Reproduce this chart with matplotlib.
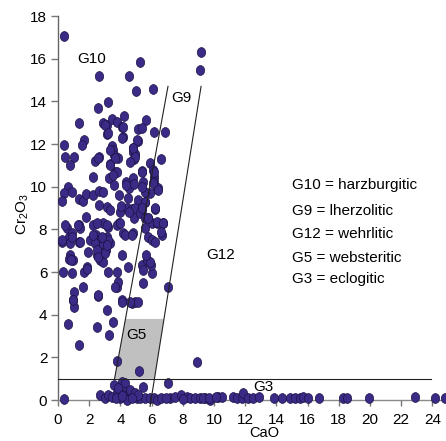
import matplotlib
matplotlib.use('Agg')
import matplotlib.pyplot as plt
import numpy as np
from matplotlib.path import Path

plt.rcParams['font.family'] = ['Liberation Sans', 'DejaVu Sans']

# garnets with higher Cr2O3 (peridotitic field)
cao_hi = [0.41, 2.65, 5.24, 4.53, 5.02, 6.07, 9.15, 9.10, 3.23, 2.54, 1.37, 4.25, 2.90, 3.12,
          3.44, 3.76, 4.12, 5.62, 5.10, 5.40, 6.15, 6.84, 3.14, 4.15, 5.15, 1.69, 1.52, 0.41,
          3.44, 3.50, 3.57, 4.79, 4.83, 0.47, 1.03, 0.77, 2.37, 2.63, 3.82, 4.91, 4.87, 5.90,
          6.60, 3.33, 6.11, 6.15, 2.26, 5.40, 3.65, 3.27, 4.38, 4.57, 4.81, 4.87, 5.47, 6.17,
          6.32, 0.66, 0.41, 0.28, 0.88, 1.35, 1.58, 1.77, 2.26, 2.65, 2.90, 2.65, 3.12, 3.33,
          3.61, 3.93, 4.36, 5.13, 5.58, 6.43, 6.22, 3.97, 4.40, 4.72, 4.94, 5.36, 1.79,
          0.57, 0.28, 0.73, 0.92, 0.77, 0.73, 0.94, 1.35, 1.41, 1.37, 1.94, 0.34, 0.92, 1.69,
          1.88, 1.62, 1.03, 0.94, 1.05, 0.66, 1.37, 2.54, 2.48, 3.12, 3.50, 3.29, 3.76, 3.87,
          4.12, 4.72, 4.94, 5.15, 5.47, 5.36, 5.47, 6.00, 5.96, 4.47, 4.08, 3.18, 3.80,
          2.44, 2.59, 2.71, 2.47, 2.69, 2.86, 3.08, 3.16, 3.23, 2.90, 3.33, 2.05, 2.26, 2.69,
          2.90, 2.80, 3.93, 4.19, 4.79, 4.90, 4.57, 5.26, 5.58, 5.79, 6.00, 5.79, 6.00, 6.22,
          6.37, 6.71, 6.69, 5.71, 5.88, 5.66, 0.45, 1.26, 2.48, 3.12, 3.76, 3.97,
          3.33, 3.65, 3.33, 3.76, 3.55, 3.01, 4.19, 4.08, 5.04, 4.83, 4.94, 4.62, 3.23, 2.58,
          6.15, 5.36, 6.11, 6.43, 5.90, 5.58, 5.36, 5.58, 5.36, 6.22, 5.79, 6.32, 6.71, 5.58,
          6.60, 0.28, 0.77, 0.88, 1.41, 2.37, 2.48, 2.58, 3.01, 3.23, 3.12, 2.80, 2.26, 4.29,
          4.72, 0.83, 1.84, 3.65, 2.58, 0.98, 4.08, 4.62, 7.07, 3.76, 5.21, 8.89, 4.51, 4.04]
cr_hi = [17.08, 15.19, 15.83, 15.19, 14.50, 14.59, 16.33, 15.47, 13.98, 13.67, 12.97, 13.33, 12.97, 12.89,
         13.17, 13.02, 12.81, 13.13, 12.69, 12.74, 12.55, 12.58, 12.45, 12.31, 12.16, 12.19, 11.95, 11.95,
         11.92, 11.72, 11.48, 11.80, 11.64, 11.41, 11.41, 11.02, 11.20, 11.38, 11.33, 11.53, 11.28, 11.09,
         11.30, 11.05, 10.78, 10.47, 10.47, 10.73, 10.67, 10.39, 10.23, 9.92, 10.39, 10.11, 10.23, 10.23,
         9.88, 10.00, 9.69, 9.33, 9.77, 9.42, 9.34, 9.64, 9.61, 9.81, 9.73, 9.14, 9.06, 8.91,
         10.08, 9.61, 10.08, 9.38, 9.30, 9.94, 8.97, 8.83, 8.98, 8.94, 8.98, 8.91, 8.59,
         8.06, 7.42, 7.66, 7.81, 6.80, 6.60, 6.56, 8.20, 8.05, 7.42, 6.95, 6.02, 5.94, 6.02,
         6.25, 5.31, 5.08, 4.69, 4.38, 3.56, 2.58, 4.88, 3.44, 4.22, 3.67, 3.04, 5.29, 5.55,
         4.69, 4.53, 4.58, 4.61, 5.47, 6.33, 6.09, 5.94, 6.33, 6.25, 6.80, 6.02, 6.02,
         7.72, 7.42, 7.03, 6.80, 6.56, 6.48, 7.03, 7.66, 8.13, 8.28, 7.34, 7.50, 8.20, 7.50,
         7.27, 6.88, 8.28, 7.81, 7.81, 8.52, 8.83, 8.75, 8.52, 8.52, 8.28, 7.66, 7.50, 7.42,
         8.28, 8.28, 7.73, 6.56, 6.48, 6.80, 8.20, 8.20, 8.28, 8.20, 8.20, 8.28,
         11.72, 11.33, 11.02, 10.70, 10.55, 12.89, 12.81, 12.27, 12.19, 11.80, 11.41, 11.17, 12.50, 11.33,
         10.70, 10.70, 10.16, 9.84, 9.69, 9.77, 10.00, 9.30, 9.00, 9.00, 8.52, 8.36, 8.28, 8.05,
         7.89, 7.50, 7.34, 7.66, 7.42, 7.34, 7.03, 6.72, 6.88, 7.50, 7.27, 7.66, 7.74, 7.74,
         7.74, 6.56, 6.13, 5.31, 4.92, 4.69, 4.61, 4.61, 5.31, 1.83, 1.37, 1.77, 9.45, 9.10]

# garnets with low Cr2O3 (G3 field and below)
cao_lo = [0.41, 2.69, 3.01, 3.23, 3.44, 3.61, 3.76, 3.97, 4.08, 4.29, 4.29, 4.51, 4.62, 4.83,
          5.04, 5.26, 5.47, 5.58, 5.90, 6.17, 6.33, 6.60, 7.07, 7.18, 7.50, 7.88, 8.24, 8.46,
          8.78, 9.10, 9.42, 9.74, 10.28, 10.49, 11.24, 11.45, 11.77, 3.87, 4.19, 4.40, 4.94,
          5.15, 4.72, 9.30, 9.70, 10.10, 11.88, 12.20, 12.52, 12.90, 13.85, 14.36, 14.87,
          15.19, 15.50, 15.72, 16.04, 16.73, 18.27, 18.50, 19.94, 22.90, 24.17, 24.80, 3.70,
          4.10, 6.90, 8.00]
cr_lo = [0.03, 0.23, 0.08, 0.23, 0.16, 0.70, 0.31, 0.08, 0.86, 0.78, 0.39, 0.23, 0.47, 0.16,
         0.08, 0.08, 0.62, 0.08, 0.08, 0.08, 0.00, 0.08, 0.78, 0.08, 0.16, 0.23, 0.16, 0.08,
         0.08, 0.08, 0.08, 0.00, 0.16, 0.16, 0.16, 0.08, 0.08, 0.55, 0.23, 0.00, 0.31,
         0.23, 0.08, 0.08, 0.10, 0.12, 0.33, 0.10, 0.08, 0.12, 0.10, 0.08, 0.10,
         0.08, 0.10, 0.12, 0.08, 0.08, 0.08, 0.08, 0.08, 0.12, 0.08, 0.08, 0.10,
         0.20, 0.10, 0.05]

# field boundaries
g10_g9_cao = [3.625, 7.05]
g10_g9_cr = [1.0, 14.7]
g9_g12_cao = [5.90, 9.17]
g9_g12_cr = [-0.30, 14.7]
g3_cao = [0.0, 23.9]
g3_cr = [1.0, 1.0]
g5_cao = [3.625, 4.325, 6.79, 6.18]
g5_cr = [1.0, 3.8, 3.8, 1.0]

legend_lines = ['G10 = harzburgitic', 'G9 = lherzolitic', 'G12 = wehrlitic',
                'G5 = websteritic', 'G3 = eclogitic']
legend_y = [10.08, 8.88, 7.76, 6.66, 5.65]

fig = plt.figure(figsize=(4.46, 4.41), dpi=100)
ax = fig.add_axes([58 / 446, 41 / 441, 388 / 446, 384 / 441])
ax.set_xlim(0, 24.87)
ax.set_ylim(0, 18)

# slightly elongated ellipse marker
circ = Path.unit_circle()
ell = Path(circ.vertices * np.array([0.85, 1.0]), circ.codes)

ax.fill(g5_cao, g5_cr, color='#c0c0c0', lw=0, zorder=1)

pts = dict(marker=ell, s=50, facecolor='#3b2a86', edgecolor='#1c1245', linewidth=0.5,
           zorder=3, clip_on=False)
ax.scatter(cao_hi, cr_hi, **pts)
ax.scatter(cao_lo, cr_lo, **pts)

lk = dict(color='#222222', lw=0.8, zorder=4, clip_on=False)
ax.plot(g10_g9_cao, g10_g9_cr, **lk)
ax.plot(g9_g12_cao, g9_g12_cr, **lk)
ax.plot(g3_cao, g3_cr, **lk)

fs = 11
ax.text(1.26, 15.99, 'G10', fontsize=fs, va='center')
ax.text(7.24, 14.14, 'G9', fontsize=fs, va='center')
ax.text(9.49, 6.80, 'G12', fontsize=fs, va='center')
ax.text(4.40, 3.05, 'G5', fontsize=fs, va='center', zorder=5)
ax.text(12.52, 0.62, 'G3', fontsize=fs, va='center', zorder=5)
for s, yy in zip(legend_lines, legend_y):
    ax.text(14.98, yy, s, fontsize=fs, va='center')

ax.set_xticks(np.arange(0, 25, 2))
ax.set_yticks(np.arange(0, 19, 2))
for side in ['top', 'right']:
    ax.spines[side].set_visible(False)
ax.spines['left'].set_color('#666666')
ax.spines['bottom'].set_color('#8a8a8a')
for side in ['left', 'bottom']:
    ax.spines[side].set_linewidth(1.0)
ax.tick_params(axis='both', direction='out', color='#777777', labelsize=11, width=1.0)
ax.tick_params(axis='x', length=4.5, pad=4.5)
ax.tick_params(axis='y', length=5.2, pad=2.5)

ax.set_xlabel('CaO', fontsize=10.5)
ax.xaxis.set_label_coords(0.532, -0.068)
ax.set_ylabel(r'Cr$_\mathregular{2}$O$_\mathregular{3}$', fontsize=fs)
ax.yaxis.set_label_coords(-0.07, 0.484)

fig.savefig('out.png', dpi=100)
